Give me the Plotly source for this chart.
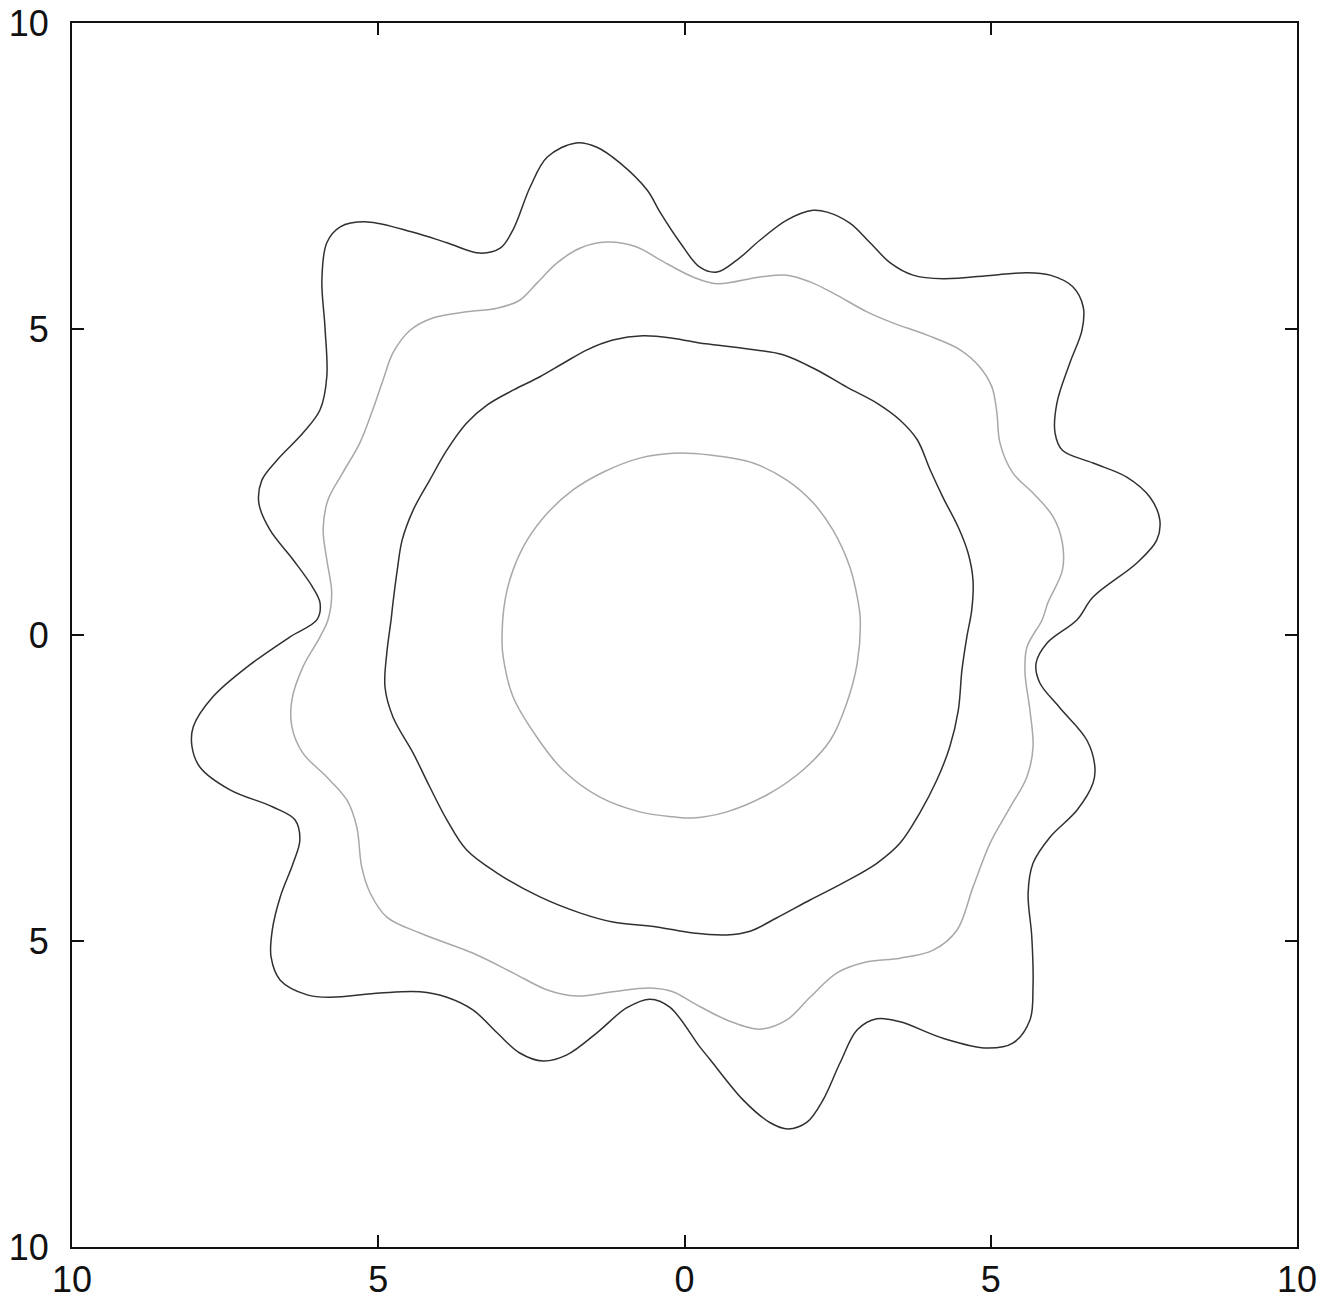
import plotly.graph_objects as go

# Curve samples (data units)
outer_black_x = [-1.77, -2.24, -2.52, -2.80, -3.01, -3.34, -3.88, -4.43, -5.18, -5.62, -5.84, -5.92, -5.87, -5.84,
                 -5.95, -6.23, -6.65, -6.90, -6.95, -6.77, -6.39, -6.07, -5.95, -6.00, -6.44, -7.14, -7.70, -8.02,
                 -8.04, -7.91, -7.42, -6.72, -6.36, -6.28, -6.39, -6.60, -6.73, -6.75, -6.60, -6.16, -5.79, -4.97,
                 -4.32, -3.88, -3.45, -3.06, -2.69, -2.31, -1.92, -1.43, -0.94, -0.56, -0.24, 0.25, 0.42, 0.96,
                 1.40, 1.69, 2.00, 2.26, 2.54, 2.82, 3.14, 3.52, 4.22, 4.94, 5.36, 5.64, 5.69, 5.67, 5.61, 5.69,
                 5.97, 6.41, 6.67, 6.70, 6.57, 6.12, 5.80, 5.74, 5.92, 6.41, 6.67, 7.39, 7.71, 7.76, 7.60, 7.22,
                 6.67, 6.17, 6.05, 6.08, 6.29, 6.49, 6.51, 6.34, 5.97, 5.59, 5.04, 4.22, 3.73, 3.36, 3.03, 2.70,
                 2.33, 2.10, 1.67, 1.23, 0.86, 0.53, 0.25, -0.07, -0.40, -0.61, -1.05, -1.43]
outer_black_y = [8.04, 7.81, 7.32, 6.62, 6.32, 6.24, 6.41, 6.58, 6.75, 6.67, 6.41, 5.80, 5.03, 4.22,
                 3.68, 3.30, 2.86, 2.53, 2.16, 1.72, 1.23, 0.78, 0.52, 0.25, -0.03, -0.52, -1.01, -1.50,
                 -1.83, -2.16, -2.53, -2.81, -3.02, -3.35, -3.73, -4.28, -4.82, -5.26, -5.64, -5.88, -5.92, -5.85,
                 -5.83, -5.92, -6.13, -6.50, -6.83, -6.96, -6.86, -6.50, -6.09, -5.95, -6.08, -6.73, -6.94, -7.60,
                 -7.97, -8.07, -7.96, -7.60, -6.99, -6.45, -6.27, -6.32, -6.59, -6.75, -6.67, -6.29, -5.75, -4.93,
                 -4.22, -3.73, -3.30, -2.86, -2.42, -2.16, -1.72, -1.18, -0.78, -0.46, -0.13, 0.25, 0.62, 1.18,
                 1.55, 1.88, 2.25, 2.58, 2.81, 3.02, 3.30, 3.79, 4.44, 4.98, 5.36, 5.69, 5.88, 5.92, 5.88, 5.82,
                 5.88, 6.08, 6.41, 6.73, 6.91, 6.94, 6.78, 6.45, 6.13, 5.93, 6.01, 6.41, 6.91, 7.27, 7.71, 7.97]

outer_gray_x = [-1.27, -1.71, -2.08, -2.41, -2.69, -3.06, -3.56, -4.11, -4.48, -4.76, -4.92, -5.09, -5.30, -5.58,
                -5.82, -5.90, -5.84, -5.76, -5.82, -5.95, -6.23, -6.41, -6.41, -6.23, -5.84, -5.51, -5.35, -5.27,
                -5.13, -4.86, -4.32, -3.45, -2.80, -2.24, -1.76, -1.17, -0.56, -0.19, 0.14, 0.69, 1.23, 1.67,
                2.05, 2.49, 2.98, 3.52, 4.06, 4.45, 4.71, 4.99, 5.32, 5.59, 5.69, 5.64, 5.56, 5.59, 5.84, 5.93,
                6.17, 6.17, 6.02, 5.69, 5.36, 5.15, 5.10, 5.02, 4.82, 4.50, 3.96, 3.40, 2.98, 2.42, 2.05, 1.67,
                1.23, 0.53, 0.14, -0.40, -0.78]
outer_gray_y = [6.42, 6.32, 6.08, 5.75, 5.47, 5.34, 5.28, 5.18, 4.98, 4.61, 4.17, 3.68, 3.14, 2.65,
                2.21, 1.72, 1.23, 0.69, 0.25, -0.03, -0.52, -1.06, -1.50, -1.93, -2.32, -2.70, -3.14, -3.79,
                -4.22, -4.61, -4.87, -5.20, -5.52, -5.80, -5.90, -5.83, -5.77, -5.83, -6.01, -6.29, -6.44, -6.29,
                -5.92, -5.52, -5.34, -5.28, -5.15, -4.82, -4.12, -3.40, -2.81, -2.32, -1.83, -1.23, -0.62, -0.20,
                0.25, 0.52, 1.06, 1.50, 1.93, 2.32, 2.65, 3.14, 3.63, 4.05, 4.38, 4.66, 4.90, 5.10, 5.28, 5.59,
                5.77, 5.88, 5.85, 5.74, 5.85, 6.13, 6.34]

inner_black_x = [0.25, -0.19, -0.68, -1.17, -1.59, -1.98, -2.36, -2.80, -3.22, -3.56, -3.88, -4.16, -4.43, -4.61,
                 -4.69, -4.76, -4.79, -4.86, -4.89, -4.76, -4.43, -4.16, -3.88, -3.56, -3.06, -2.36, -1.71, -1.17,
                 -0.45, 0.14, 0.69, 1.07, 1.51, 2.05, 2.59, 3.14, 3.52, 3.84, 4.12, 4.33, 4.47, 4.53, 4.61, 4.69,
                 4.71, 4.63, 4.47, 4.22, 4.01, 3.80, 3.52, 3.14, 2.65, 2.16, 1.61, 1.07, 0.42]
inner_black_y = [4.77, 4.85, 4.89, 4.82, 4.66, 4.44, 4.22, 4.00, 3.76, 3.46, 3.02, 2.53, 2.04, 1.55,
                 1.06, 0.52, 0.25, -0.29, -0.85, -1.34, -1.93, -2.48, -3.02, -3.51, -3.89, -4.28, -4.54, -4.69,
                 -4.77, -4.87, -4.90, -4.84, -4.62, -4.33, -4.05, -3.73, -3.40, -2.91, -2.37, -1.83, -1.23, -0.57,
                 -0.03, 0.41, 0.90, 1.34, 1.76, 2.25, 2.70, 3.19, 3.51, 3.79, 4.05, 4.33, 4.58, 4.67, 4.75]

inner_gray_x = [-0.19, -0.73, -1.33, -1.82, -2.24, -2.57, -2.80, -2.93, -2.98, -2.96, -2.80, -2.41, -1.98, -1.38,
                -0.73, -0.19, 0.14, 0.69, 1.35, 1.93, 2.38, 2.65, 2.82, 2.87, 2.83, 2.70, 2.42, 2.10, 1.67,
                1.12, 0.42]
inner_gray_y = [2.97, 2.89, 2.66, 2.37, 1.99, 1.55, 1.06, 0.57, -0.08, -0.36, -1.01, -1.67, -2.21, -2.65,
                -2.89, -2.97, -2.99, -2.89, -2.61, -2.21, -1.72, -1.11, -0.46, 0.25, 0.57, 1.11, 1.72, 2.16, 2.53,
                2.81, 2.94]

tick_vals = [-10, -5, 0, 5, 10]
tick_text = ["10", "5", "0", "5", "10"]

BLACK = "#303030"
GRAY = "#a8a8a8"

curves = [
    (outer_black_x, outer_black_y, BLACK),
    (outer_gray_x, outer_gray_y, GRAY),
    (inner_black_x, inner_black_y, BLACK),
    (inner_gray_x, inner_gray_y, GRAY),
]

fig = go.Figure()
for xs, ys, col in curves:
    fig.add_trace(go.Scatter(
        x=xs + xs[:1], y=ys + ys[:1], mode="lines",
        line=dict(color=col, width=1.5, shape="spline", smoothing=1.0),
        hoverinfo="skip", showlegend=False))

axis_common = dict(
    range=[-10, 10], tickvals=tick_vals, ticktext=tick_text,
    ticks="inside", ticklen=12, tickwidth=2, tickcolor="#111111",
    showline=True, linewidth=2, linecolor="#111111", mirror="ticks",
    showgrid=False, zeroline=False, fixedrange=True, automargin=False,
    ticklabeloverflow="allow",
    tickfont=dict(family="Liberation Sans, Arial, sans-serif", size=36, color="#111111"),
)

fig.update_layout(
    width=1334, height=1306,
    margin=dict(l=72, r=37, t=23, b=59),
    paper_bgcolor="white", plot_bgcolor="white",
    xaxis=dict(**axis_common, ticklabelstandoff=0),
    yaxis=dict(**axis_common, ticklabelstandoff=14),
)

# remove the default page margin so the figure fills the browser window exactly
fig.write_html(
    "out.html",
    config={"displayModeBar": False, "staticPlot": True},
    post_script="document.body.style.margin='0';document.body.style.overflow='hidden';",
)
